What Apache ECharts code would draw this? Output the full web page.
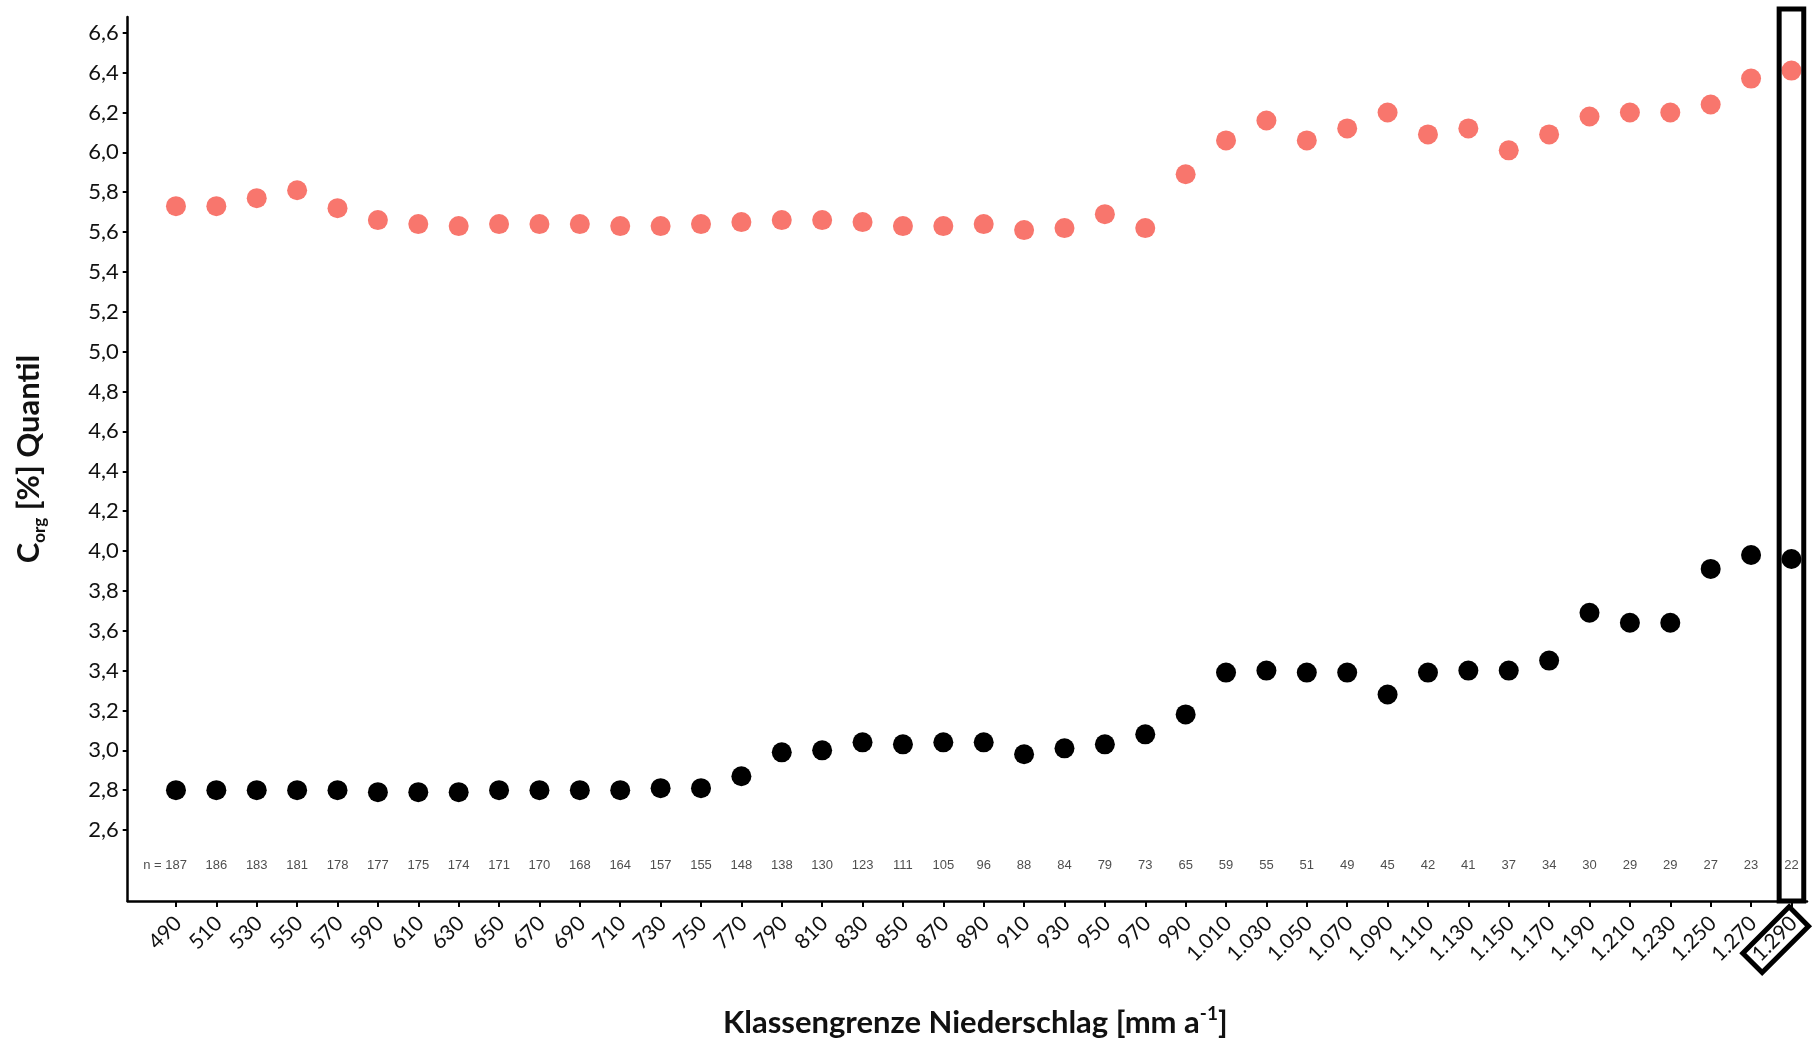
<!DOCTYPE html>
<html><head><meta charset="utf-8">
<script src="https://cdn.jsdelivr.net/npm/echarts@6/dist/echarts.min.js"></script>
<style>html,body{margin:0;padding:0;background:#fff}#c{width:1814px;height:1040px}</style>
</head><body><div id="c"></div>
<script>
// Klassengrenze Niederschlag [mm/a]
const classes = [490, 510, 530, 550, 570, 590, 610, 630, 650, 670, 690, 710, 730, 750, 770, 790, 810, 830, 850, 870,
  890, 910, 930, 950, 970, 990, 1010, 1030, 1050, 1070, 1090, 1110, 1130, 1150, 1170, 1190, 1210, 1230, 1250, 1270, 1290];
// upper quantile (red)
const upperValues = [5.73, 5.73, 5.77, 5.81, 5.72, 5.66, 5.64, 5.63, 5.64, 5.64, 5.64, 5.63, 5.63, 5.64, 5.65, 5.66, 5.66, 5.65, 5.63, 5.63,
  5.64, 5.61, 5.62, 5.69, 5.62, 5.89, 6.06, 6.16, 6.06, 6.12, 6.20, 6.09, 6.12, 6.01, 6.09, 6.18, 6.20, 6.20, 6.24, 6.37, 6.41];
// lower quantile (black)
const lowerValues = [2.80, 2.80, 2.80, 2.80, 2.80, 2.79, 2.79, 2.79, 2.80, 2.80, 2.80, 2.80, 2.81, 2.81, 2.87, 2.99, 3.00, 3.04, 3.03, 3.04,
  3.04, 2.98, 3.01, 3.03, 3.08, 3.18, 3.39, 3.40, 3.39, 3.39, 3.28, 3.39, 3.40, 3.40, 3.45, 3.69, 3.64, 3.64, 3.91, 3.98, 3.96];
// sample sizes
const nCounts = [187, 186, 183, 181, 178, 177, 175, 174, 171, 170, 168, 164, 157, 155, 148, 138, 130, 123, 111, 105,
  96, 88, 84, 79, 73, 65, 59, 55, 51, 49, 45, 42, 41, 37, 34, 30, 29, 29, 27, 23, 22];
const yTicks = [2.6, 2.8, 3.0, 3.2, 3.4, 3.6, 3.8, 4.0, 4.2, 4.4, 4.6, 4.8, 5.0, 5.2, 5.4, 5.6, 5.8, 6.0, 6.2, 6.4, 6.6];
const highlighted = 1290;
const nRowLevel = 2.425;

const Y_MIN = 2.244, Y_MAX = 6.679, X_MIN = 466.1, X_MAX = 1297.7;

const fmtX = v => v >= 1000 ? Math.floor(v / 1000) + '.' + String(v % 1000).padStart(3, '0') : String(v);
const fmtY = v => v.toFixed(1).replace('.', ',');

const chart = echarts.init(document.getElementById('c'), null, { renderer: 'canvas' });

const nData = classes.map((c, i) => {
  const item = { value: [c, nRowLevel] };
  if (i === 0) item.label = { align: 'right', offset: [11, 0] };
  return item;
});

const option = {
  animation: false,
  backgroundColor: '#ffffff',
  grid: { left: 127.7, right: 7, top: 17, bottom: 139, containLabel: false, outerBoundsMode: 'none' },
  xAxis: {
    type: 'value', min: X_MIN, max: X_MAX,
    splitLine: { show: false },
    axisLine: { show: true, onZero: false, lineStyle: { color: '#000', width: 2.5 } },
    axisTick: { show: true, customValues: classes, length: 6, lineStyle: { color: '#000', width: 2 } },
    axisLabel: {
      customValues: classes, rotate: 45, margin: 21, formatter: fmtX,
      align: 'right', verticalAlign: 'middle', padding: [0, -3, 0, 0],
      fontFamily: 'Lato', fontSize: 21, color: '#111'
    },
    name: '{m|Klassengrenze Niederschlag [mm a}{s|-1}{m|]}',
    nameLocation: 'middle', nameGap: 103,
    nameTextStyle: {
      padding: [0, 0, 0, 16],
      rich: {
        m: { fontFamily: 'Lato', fontWeight: 'bold', fontSize: 31, color: '#111', lineHeight: 38, verticalAlign: 'middle' },
        s: { fontFamily: 'Lato', fontWeight: 'bold', fontSize: 19, color: '#111', lineHeight: 19, verticalAlign: 'top' }
      }
    }
  },
  yAxis: {
    type: 'value', min: Y_MIN, max: Y_MAX,
    splitLine: { show: false },
    axisLine: { show: true, onZero: false, lineStyle: { color: '#000', width: 2.5 } },
    axisTick: { show: true, customValues: yTicks, length: 5, lineStyle: { color: '#000', width: 2 } },
    axisLabel: {
      customValues: yTicks, margin: 9, formatter: fmtY,
      fontFamily: 'Lato', fontSize: 22, color: '#111'
    },
    name: '{m|C}{s|org}{m| [%] Quantil}',
    nameLocation: 'middle', nameGap: 80, nameRotate: 90,
    nameTextStyle: {
      rich: {
        m: { fontFamily: 'Lato', fontWeight: 'bold', fontSize: 31, color: '#111', lineHeight: 38, verticalAlign: 'middle' },
        s: { fontFamily: 'Lato', fontWeight: 'bold', fontSize: 17, color: '#111', lineHeight: 17, verticalAlign: 'bottom' }
      }
    }
  },
  series: [
    {
      name: 'oberes Quantil', type: 'scatter', symbolSize: 20,
      itemStyle: { color: '#F8766D', opacity: 1 },
      emphasis: { disabled: true },
      data: classes.map((c, i) => [c, upperValues[i]])
    },
    {
      name: 'unteres Quantil', type: 'scatter', symbolSize: 20,
      itemStyle: { color: '#000000', opacity: 1 },
      emphasis: { disabled: true },
      data: classes.map((c, i) => [c, lowerValues[i]])
    },
    {
      name: 'n', type: 'scatter', symbolSize: 0, silent: true,
      emphasis: { disabled: true },
      label: {
        show: true, position: 'inside', align: 'center', verticalAlign: 'middle',
        fontFamily: 'Liberation Sans', fontSize: 13, color: '#222',
        formatter: p => (p.dataIndex === 0 ? 'n = ' : '') + nCounts[p.dataIndex]
      },
      data: nData
    }
  ]
};
chart.setOption(option);

// annotation: frame around highlighted class and its axis label
const pBottom = chart.convertToPixel({ xAxisIndex: 0, yAxisIndex: 0 }, [highlighted, Y_MIN]);
const pTop = chart.convertToPixel({ xAxisIndex: 0, yAxisIndex: 0 }, [highlighted, Y_MAX]);
const cx = pBottom[0];
chart.setOption({
  graphic: [
    {
      type: 'rect', silent: true, z: 100,
      shape: { x: cx - 12.3, y: pTop[1] - 8, width: 24.6, height: pBottom[1] - pTop[1] + 8 },
      style: { fill: null, stroke: '#000', lineWidth: 5 }
    },
    {
      type: 'rect', silent: true, z: 100,
      x: cx - 15.8, y: pBottom[1] + 38.7, rotation: Math.PI / 4,
      shape: { x: -32.8, y: -13.7, width: 65.6, height: 27.4 },
      style: { fill: null, stroke: '#000', lineWidth: 5 }
    }
  ]
});
</script>
</body></html>
